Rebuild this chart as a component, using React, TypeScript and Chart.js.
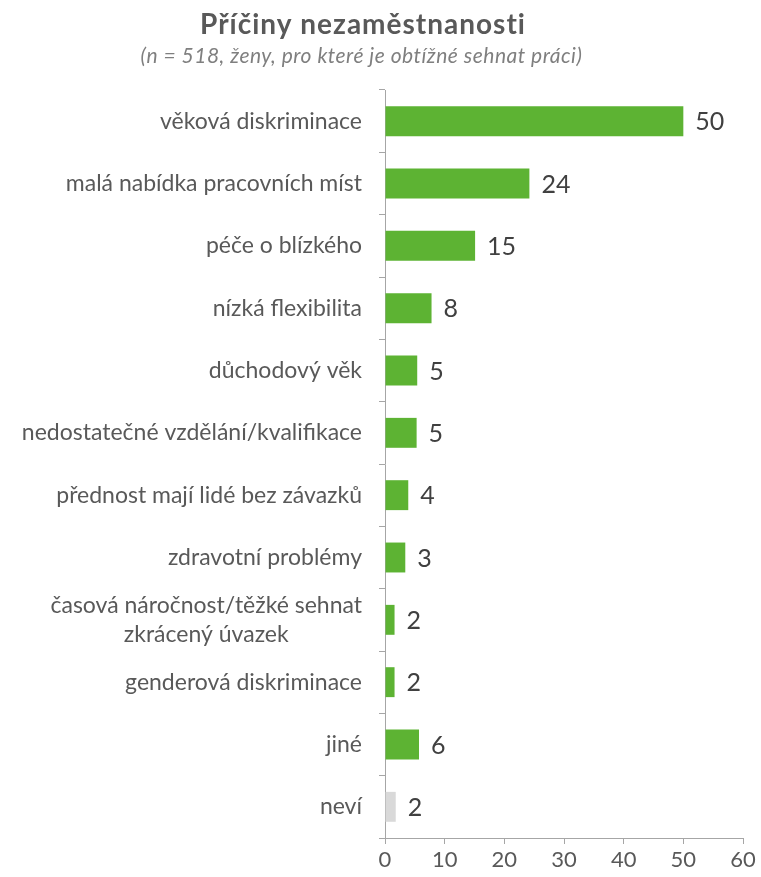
import React, { useEffect, useRef } from "react";
import { Chart, registerables } from "chart.js";

Chart.register(...registerables);

const chartTitle = "Příčiny nezaměstnanosti";
const chartSubtitle = "(n = 518, ženy, pro které je obtížné sehnat práci)";

const categories: (string | string[])[] = [
  "věková diskriminace",
  "malá nabídka pracovních míst",
  "péče o blízkého",
  "nízká flexibilita",
  "důchodový věk",
  "nedostatečné vzdělání/kvalifikace",
  "přednost mají lidé bez závazků",
  "zdravotní problémy",
  ["časová náročnost/těžké sehnat", "zkrácený úvazek"],
  "genderová diskriminace",
  "jiné",
  "neví",
];

const barValues = [50, 24.2, 15.1, 7.8, 5.4, 5.3, 3.9, 3.4, 1.6, 1.6, 5.7, 1.8];
const valueLabels = ["50", "24", "15", "8", "5", "5", "4", "3", "2", "2", "6", "2"];
const barColors = [
  "#5db333", "#5db333", "#5db333", "#5db333", "#5db333", "#5db333",
  "#5db333", "#5db333", "#5db333", "#5db333", "#5db333", "#d9d9d9",
];

const xTicks = { min: 0, max: 60, step: 10 };

const FONT = "Lato, 'Open Sans', sans-serif";
const TEXT = "#595959";
const AXIS = "#a6a6a6";

const overlayPlugin = {
  id: "overlay",
  afterDraw(chart: any) {
    const ctx = chart.ctx;
    const w = chart.width;
    ctx.save();
    // title & subtitle
    ctx.textAlign = "center";
    ctx.textBaseline = "alphabetic";
    ctx.fillStyle = TEXT;
    ctx.font = `bold 28px ${FONT}`;
    (ctx as any).letterSpacing = "1px";
    ctx.fillText(chartTitle, w * 0.477, 34);
    ctx.fillStyle = "#7f7f7f";
    ctx.font = `italic 21px ${FONT}`;
    (ctx as any).letterSpacing = "0.5px";
    ctx.fillText(chartSubtitle, w * 0.475, 63);
    (ctx as any).letterSpacing = "0px";

    // category labels (multi-line labels centered as a block)
    const yScale = chart.scales.y;
    const rightX = yScale.right - 23;
    ctx.font = `23px ${FONT}`;
    ctx.fillStyle = TEXT;
    ctx.textBaseline = "middle";
    const lineH = 29;
    categories.forEach((lab, i) => {
      const py = yScale.getPixelForValue(i);
      const lines = Array.isArray(lab) ? lab : [lab];
      if (lines.length === 1) {
        ctx.textAlign = "right";
        ctx.fillText(lines[0], rightX, py);
      } else {
        const maxW = Math.max(...lines.map((l) => ctx.measureText(l).width));
        const cx = rightX - maxW / 2;
        ctx.textAlign = "center";
        lines.forEach((l, k) => {
          const off = (k - (lines.length - 1) / 2) * lineH;
          ctx.fillText(l, cx, py + off);
        });
      }
    });
    ctx.restore();
  },
  afterDatasetsDraw(chart: any) {
    const ctx = chart.ctx;
    const meta = chart.getDatasetMeta(0);
    ctx.save();
    ctx.font = `25px ${FONT}`;
    ctx.fillStyle = "#404040";
    ctx.textAlign = "left";
    ctx.textBaseline = "middle";
    meta.data.forEach((bar: any, i: number) => {
      ctx.fillText(valueLabels[i], bar.x + 12, bar.y + 1);
    });
    ctx.restore();
  },
};

export default function App() {
  const ref = useRef<HTMLCanvasElement>(null);

  useEffect(() => {
    if (!ref.current) return;
    const chart = new Chart(ref.current, {
      type: "bar",
      data: {
        labels: categories as any,
        datasets: [
          {
            data: barValues,
            backgroundColor: barColors,
            borderWidth: 0,
            barPercentage: 1,
            categoryPercentage: 0.48,
          },
        ],
      },
      options: {
        indexAxis: "y",
        responsive: false,
        animation: false,
        layout: { padding: { top: 90, right: 18, bottom: 0, left: 0 } },
        plugins: {
          legend: { display: false },
          title: { display: false },
          tooltip: { enabled: false },
        },
        scales: {
          x: {
            type: "linear",
            min: xTicks.min,
            max: xTicks.max,
            ticks: {
              stepSize: xTicks.step,
              color: TEXT,
              font: { family: FONT, size: 22 },
              padding: 3,
            },
            grid: {
              drawOnChartArea: false,
              drawTicks: true,
              tickLength: 6,
              color: AXIS,
            },
            border: { display: true, color: AXIS, width: 1 },
            afterFit(scale: any) {
              scale.height = 39;
            },
          },
          y: {
            type: "category",
            ticks: { display: false },
            grid: {
              offset: true,
              drawOnChartArea: false,
              drawTicks: true,
              tickLength: 6,
              color: AXIS,
            },
            border: { display: true, color: AXIS, width: 1 },
            afterFit(scale: any) {
              scale.width = 385;
            },
          },
        },
      },
      plugins: [overlayPlugin],
    });
    return () => chart.destroy();
  }, []);

  return (
    <div style={{ position: "absolute", left: 0, top: 0, width: 761, height: 877, background: "#fff" }}>
      <canvas ref={ref} width={761} height={877} />
    </div>
  );
}
